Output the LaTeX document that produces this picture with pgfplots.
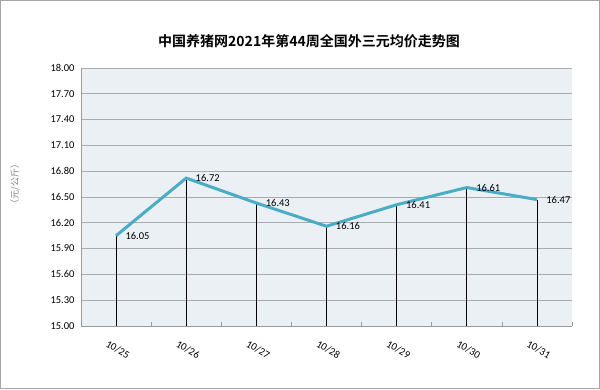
\documentclass[border=0pt]{standalone}
\usepackage{fontspec}
\setmainfont{Carlito}
\newfontfamily\cjk[BoldFont={* Bold}]{Noto Sans CJK SC}
\usepackage{pgfplots}
\pgfplotsset{compat=1.18}
\definecolor{bgc}{HTML}{EAF0F4}
\definecolor{linec}{HTML}{4BACC6}
\definecolor{gridc}{HTML}{ABABAB}
\begin{document}
\begin{tikzpicture}[x=1pt,y=1pt]
\path[use as bounding box] (0,0) rectangle (600,389);
\draw[draw=gray!70, line width=1pt] (0.5,0.5) rectangle (599.5,388.5);
\node[font={\cjk\bfseries\fontsize{14}{16}\selectfont}] at (309,348) {中国养猪网2021年第44周全国外三元均价走势图};
\node[font={\cjk\fontsize{9}{10}\selectfont}, text=gray, rotate=90] at (15,205) {（元/公斤）};
\begin{axis}[at={(81pt,63pt)}, anchor=south west, width=491pt, height=258pt, scale only axis,
  xmin=-0.5, xmax=6.5, ymin=15, ymax=18,
  xtick={0,...,6},
  xticklabels={10/25,10/26,10/27,10/28,10/29,10/30,10/31},
  minor xtick={-0.5,0.5,1.5,2.5,3.5,4.5,5.5,6.5},
  ytick={15,15.3,15.6,15.9,16.2,16.5,16.8,17.1,17.4,17.7,18},
  yticklabels={15.00,15.30,15.60,15.90,16.20,16.50,16.80,17.10,17.40,17.70,18.00},
  axis background/.style={fill=bgc},
  ymajorgrids, grid style={gridc, line width=0.9pt},
  axis line style={draw=gray!80, line width=0.8pt},
  axis x line*=bottom, axis y line*=left,
  major tick length=0pt, minor tick length=4pt, tick align=inside,
  minor tick style={draw=gray!80, line width=0.6pt},
  ticklabel style={font=\fontsize{10.5}{12}\selectfont},
  yticklabel style={xshift=-3pt},
  xticklabel style={rotate=-30, anchor=north west, xshift=-3pt, yshift=-12pt},
  clip=false,
]
\addplot[ycomb, black, line width=0.6pt, no marks] coordinates {(0,16.05) (1,16.72) (2,16.43) (3,16.16) (4,16.41) (5,16.61) (6,16.47)};
\addplot[linec, line width=3pt, no marks,
  nodes near coords, point meta=explicit symbolic,
  every node near coord/.style={anchor=west, font=\fontsize{10.5}{12}\selectfont, text=black, xshift=7pt, inner sep=1pt}]
  coordinates {(0,16.05) [16.05] (1,16.72) [16.72] (2,16.43) [16.43] (3,16.16) [16.16] (4,16.41) [16.41] (5,16.61) [16.61] (6,16.47) [16.47]};
\end{axis}
\end{tikzpicture}
\end{document}
